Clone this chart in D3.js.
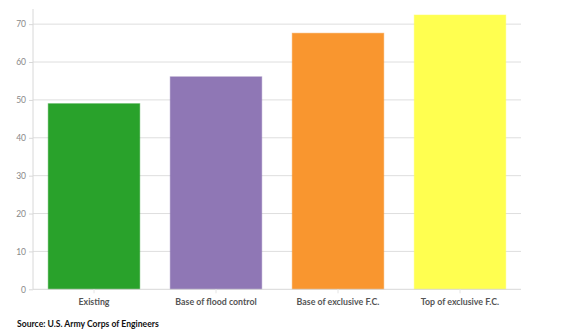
<!DOCTYPE html>
<html><head><meta charset="utf-8">
<script src="https://cdn.jsdelivr.net/npm/d3@7"></script>
<style>
body{margin:0;background:#fff;}
svg{display:block;font-family:Lato,"Open Sans",sans-serif;}
</style></head>
<body><svg id="chart" width="584" height="335"></svg>
<script>
const categories = ["Existing","Base of flood control","Base of exclusive F.C.","Top of exclusive F.C."];
const values = [49.0, 56.1, 67.6, 72.4];
const colors = ["#29a22b","#8f77b5","#f9962f","#ffff50"];
const yTicks = [0,10,20,30,40,50,60,70];
const source = "Source: U.S. Army Corps of Engineers";

const svg = d3.select("#chart");
const m = {left:33, right:63, top:9, bottom:46};
const W = 584, H = 335;
const x = d3.scaleBand().domain(categories).range([m.left, W - m.right]).paddingInner(0.25).paddingOuter(0.125);
const y = d3.scaleLinear().domain([0, 74]).range([289.3, m.top]);

// grid
svg.append("g").selectAll("line").data(yTicks.filter(d=>d>0)).join("line")
  .attr("x1", m.left).attr("x2", W - m.right)
  .attr("y1", d=>y(d)).attr("y2", d=>y(d))
  .attr("stroke", "#dedede").attr("stroke-width", 1);

// y axis
const ya = svg.append("g").attr("transform", `translate(${m.left},0)`)
  .call(d3.axisLeft(y).tickValues(yTicks).tickSize(4).tickPadding(3).tickFormat(d3.format("d")));
ya.select(".domain").attr("stroke", "#d8d8d8").attr("d", `M0,${y(0)}V${m.top}`);
ya.selectAll(".tick line").attr("stroke", "#d8d8d8");
ya.selectAll(".tick text").attr("fill", "#888").style("font-size", "8.5px").style("font-family", "Lato, sans-serif");

// bars
svg.append("g").selectAll("rect").data(values).join("rect")
  .attr("x", (d,i)=>x(categories[i]))
  .attr("width", x.bandwidth())
  .attr("y", d=>y(d))
  .attr("height", d=>y(0)-y(d))
  .attr("fill", (d,i)=>colors[i])
  .attr("stroke", (d,i)=>colors[i])
  .attr("stroke-opacity", 0.5)
  .attr("stroke-width", 1);

// x axis
const xa = svg.append("g").attr("transform", `translate(0,${y(0)})`)
  .call(d3.axisBottom(x).tickSize(4).tickPadding(5));
xa.select(".domain").attr("stroke", "#d8d8d8").attr("d", `M${m.left},0H${W - m.right}`);
xa.selectAll(".tick line").attr("stroke", "#e4e4e4");
xa.selectAll(".tick text").attr("fill", "#555").style("font-size", "8.8px").style("font-weight", "bold").style("font-family", "Lato, sans-serif");

svg.append("text").attr("x", 17).attr("y", 327)
  .attr("fill", "#111").style("font-size", "8.6px").style("font-weight", "bold")
  .text(source);
</script></body></html>
